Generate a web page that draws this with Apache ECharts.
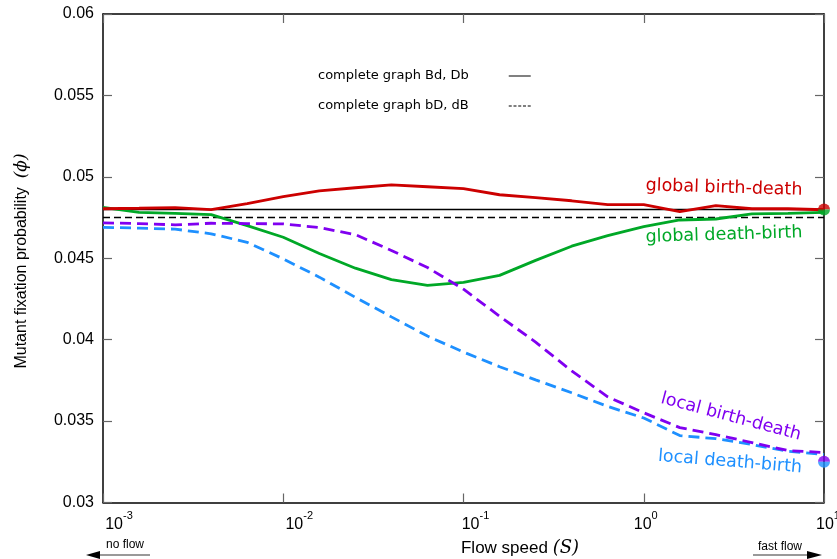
<!DOCTYPE html>
<html>
<head>
<meta charset="utf-8">
<script src="https://cdn.jsdelivr.net/npm/echarts@6/dist/echarts.min.js"></script>
<style>
html,body{margin:0;padding:0;background:#fff;}
#chart{width:837px;height:559px;}
</style>
</head>
<body>
<div id="chart"></div>
<script>
// ---- data ----
const flowSpeed = [0.001, 0.001585, 0.002512, 0.003981, 0.00631, 0.01, 0.01585, 0.02512, 0.03981, 0.0631,
  0.1, 0.1585, 0.2512, 0.3981, 0.631, 1, 1.585, 2.512, 3.981, 6.31, 10];
const globalBirthDeath = [0.04804, 0.04807, 0.04811, 0.04798, 0.04835, 0.04878, 0.04914, 0.04933, 0.04951, 0.04939,
  0.04927, 0.0489, 0.04872, 0.04853, 0.04829, 0.04829, 0.04786, 0.04823, 0.04804, 0.04804, 0.04798];
const globalDeathBirth = [0.04812, 0.04782, 0.04776, 0.04768, 0.047, 0.04629, 0.04529, 0.04439, 0.04369, 0.04334,
  0.04352, 0.04395, 0.04487, 0.04574, 0.04639, 0.04694, 0.04735, 0.04741, 0.04772, 0.04776, 0.04782];
const localBirthDeath = [0.04717, 0.04713, 0.04705, 0.04715, 0.04713, 0.04711, 0.04688, 0.04645, 0.04548, 0.04443,
  0.0431, 0.04144, 0.03985, 0.03808, 0.03649, 0.03551, 0.0346, 0.03417, 0.03368, 0.03319, 0.03307];
const localDeathBirth = [0.0469, 0.04685, 0.04679, 0.0465, 0.04598, 0.04496, 0.04384, 0.0426, 0.0414, 0.04022,
  0.03924, 0.03834, 0.03753, 0.03674, 0.0359, 0.03519, 0.03411, 0.03392, 0.03356, 0.03315, 0.03295];
const completeRange = [0.001, 10];
const completeBdDb = [0.048, 0.048];
const completeBDdB = [0.0475, 0.0475];
const endSpeed = 10;
const globalEnd = 0.048;
const localEnd = 0.0325;
const legendNames = ['complete graph Bd, Db', 'complete graph bD, dB'];
const seriesNames = ['global birth-death', 'global death-birth', 'local birth-death', 'local death-birth'];

const RED = '#cc0000', GREEN = '#00a827', PURPLE = '#8000f0', BLUE = '#1e90ff';
const pairs = (xs, ys) => xs.map((x, i) => [x, ys[i]]);

const chart = echarts.init(document.getElementById('chart'), null, {renderer: 'canvas'});

// spacer widths to shift x tick labels (reference labels sit right of the tick)
const spacer = {'-3': 32, '-2': 32, '-1': 24, '0': 4, '1': 8};
const richX = {
  b: {fontFamily: 'Liberation Sans', fontSize: 16, color: '#000', lineHeight: 22, verticalAlign: 'bottom'},
  s: {fontFamily: 'Liberation Sans', fontSize: 11, color: '#000', lineHeight: 12, verticalAlign: 'top'}
};
Object.keys(spacer).forEach(k => { richX['p' + (Number(k) + 3)] = {width: spacer[k], height: 1}; });

const halfTop = 'path://M0,10 A10,10 0 0 1 20,10 Z';
const halfBot = 'path://M0,0 A10,10 0 0 0 20,0 Z';
const solidIcon = 'path://M0,0H22V1H0Z';
const dashIcon = 'path://M0,0H3V1H0Z M4.75,0H7.75V1H4.75Z M9.5,0H12.5V1H9.5Z M14.25,0H17.25V1H14.25Z M19,0H22V1H19Z';

const option = {
  animation: false,
  backgroundColor: '#fff',
  grid: {left: 103, right: 13, top: 14, bottom: 56.5, containLabel: false, outerBoundsMode: 'none'},
  legend: {
    data: [
      {name: legendNames[0], icon: solidIcon, itemStyle: {color: '#000', opacity: 1}},
      {name: legendNames[1], icon: dashIcon, itemStyle: {color: '#000', opacity: 1}}
    ],
    orient: 'vertical',
    align: 'right',
    left: 318,
    top: 69,
    padding: 0,
    itemWidth: 22,
    itemHeight: 3,
    itemGap: 16,
    itemStyle: {color: '#000', borderWidth: 0},
    textStyle: {fontFamily: 'DejaVu Sans', fontSize: 13, lineHeight: 14, color: '#000', padding: [0, 35, 0, 0]},
    selectedMode: false
  },
  xAxis: [{
    type: 'log', logBase: 10, min: 0.001, max: 10,
    position: 'bottom',
    axisLine: {show: true, onZero: false, lineStyle: {color: '#000', width: 1.5}},
    axisTick: {show: true, inside: true, length: 9, lineStyle: {color: '#666', width: 1.2}},
    minorTick: {show: false},
    splitLine: {show: false},
    axisLabel: {
      margin: 8,
      showMinLabel: true, showMaxLabel: true, hideOverlap: false,
      formatter: function (v) {
        const e = Math.round(Math.log10(v));
        return '{p' + (e + 3) + '|}{b|10}{s|' + e + '}';
      },
      rich: richX
    }
  }, {
    type: 'log', logBase: 10, min: 0.001, max: 10,
    position: 'top',
    axisLine: {show: true, onZero: false, lineStyle: {color: '#000', width: 1.5}},
    axisTick: {show: true, inside: true, length: 9, lineStyle: {color: '#666', width: 1.2}},
    splitLine: {show: false},
    axisLabel: {show: false}
  }],
  yAxis: [{
    type: 'value', min: 0.03, max: 0.06, interval: 0.005,
    position: 'left',
    axisLine: {show: true, onZero: false, lineStyle: {color: '#000', width: 1.5}},
    axisTick: {show: true, inside: true, length: 9, lineStyle: {color: '#666', width: 1.2}},
    splitLine: {show: false},
    axisLabel: {
      margin: 9,
      fontFamily: 'Liberation Sans', fontSize: 16, color: '#000',
      formatter: v => String(+v.toFixed(3))
    }
  }, {
    type: 'value', min: 0.03, max: 0.06, interval: 0.005,
    position: 'right',
    axisLine: {show: true, onZero: false, lineStyle: {color: '#000', width: 1.5}},
    axisTick: {show: true, inside: true, length: 9, lineStyle: {color: '#666', width: 1.2}},
    splitLine: {show: false},
    axisLabel: {show: false}
  }],
  series: [
    {name: legendNames[0], type: 'line', data: pairs(completeRange, completeBdDb), symbol: 'none',
      lineStyle: {color: '#000', width: 1.5, type: 'solid'}, itemStyle: {color: '#000'}, z: 2},
    {name: legendNames[1], type: 'line', data: pairs(completeRange, completeBDdB), symbol: 'none',
      lineStyle: {color: '#000', width: 1.5, type: [7, 4]}, itemStyle: {color: '#000'}, z: 2},
    {name: seriesNames[1], type: 'line', data: pairs(flowSpeed, globalDeathBirth), symbol: 'none',
      lineStyle: {color: GREEN, width: 2.8}, z: 3},
    {name: seriesNames[0], type: 'line', data: pairs(flowSpeed, globalBirthDeath), symbol: 'none',
      lineStyle: {color: RED, width: 2.8}, z: 4},
    {name: seriesNames[3], type: 'line', data: pairs(flowSpeed, localDeathBirth), symbol: 'none',
      lineStyle: {color: BLUE, width: 2.8, type: [11, 6]}, z: 3},
    {name: seriesNames[2], type: 'line', data: pairs(flowSpeed, localBirthDeath), symbol: 'none',
      lineStyle: {color: PURPLE, width: 2.8, type: [11, 6]}, z: 4},
    {name: 'endTop', type: 'scatter', clip: false, z: 6,
      data: [{value: [endSpeed, globalEnd], itemStyle: {color: RED}}, {value: [endSpeed, localEnd], itemStyle: {color: PURPLE}}],
      symbol: halfTop, symbolSize: [12, 6], symbolOffset: [0, -3], silent: true},
    {name: 'endBot', type: 'scatter', clip: false, z: 6,
      data: [{value: [endSpeed, globalEnd], itemStyle: {color: GREEN}}, {value: [endSpeed, localEnd], itemStyle: {color: BLUE}}],
      symbol: halfBot, symbolSize: [12, 6], symbolOffset: [0, 3], silent: true}
  ],
  graphic: [
    // series labels
    {type: 'text', x: 724, y: 188, rotation: -0.03, style: {text: seriesNames[0], fill: RED, font: '17.5px "DejaVu Sans"', align: 'center', verticalAlign: 'middle'}},
    {type: 'text', x: 724, y: 235, rotation: 0.03, style: {text: seriesNames[1], fill: GREEN, font: '17.5px "DejaVu Sans"', align: 'center', verticalAlign: 'middle'}},
    {type: 'text', x: 731, y: 417, rotation: -0.26, style: {text: seriesNames[2], fill: PURPLE, font: '17.5px "DejaVu Sans"', align: 'center', verticalAlign: 'middle'}},
    {type: 'text', x: 730, y: 462, rotation: -0.08, style: {text: seriesNames[3], fill: BLUE, font: '17.5px "DejaVu Sans"', align: 'center', verticalAlign: 'middle'}},
    // y axis title
    {type: 'text', x: 22, y: 261, rotation: Math.PI / 2,
      style: {text: '{a|Mutant fixation probability  }{m|(ϕ)}', align: 'center', verticalAlign: 'middle',
        rich: {a: {fontFamily: 'Liberation Sans', fontSize: 16, fill: '#000', lineHeight: 20},
               m: {fontFamily: 'DejaVu Serif', fontStyle: 'italic', fontSize: 17, fill: '#000', lineHeight: 20}}}},
    // x axis title
    {type: 'text', x: 520, y: 548,
      style: {text: '{a|Flow speed }{m|(S)}', align: 'center', verticalAlign: 'middle',
        rich: {a: {fontFamily: 'Liberation Sans', fontSize: 17, fill: '#000', lineHeight: 22},
               m: {fontFamily: 'DejaVu Serif', fontStyle: 'italic', fontSize: 18, fill: '#000', lineHeight: 22}}}},
    // no flow / fast flow annotations
    {type: 'text', x: 125, y: 545, style: {text: 'no flow', fill: '#000', font: '12px "Liberation Sans"', align: 'center', verticalAlign: 'middle'}},
    {type: 'line', shape: {x1: 98, y1: 555, x2: 150, y2: 555}, style: {stroke: '#777', lineWidth: 1.5}},
    {type: 'polygon', shape: {points: [[86, 555], [100, 551], [100, 559]]}, style: {fill: '#000'}},
    {type: 'text', x: 780, y: 547, style: {text: 'fast flow', fill: '#000', font: '12px "Liberation Sans"', align: 'center', verticalAlign: 'middle'}},
    {type: 'line', shape: {x1: 753, y1: 555, x2: 808, y2: 555}, style: {stroke: '#777', lineWidth: 1.5}},
    {type: 'polygon', shape: {points: [[822, 555], [807, 551], [807, 559]]}, style: {fill: '#000'}}
  ]
};
chart.setOption(option);
</script>
</body>
</html>
